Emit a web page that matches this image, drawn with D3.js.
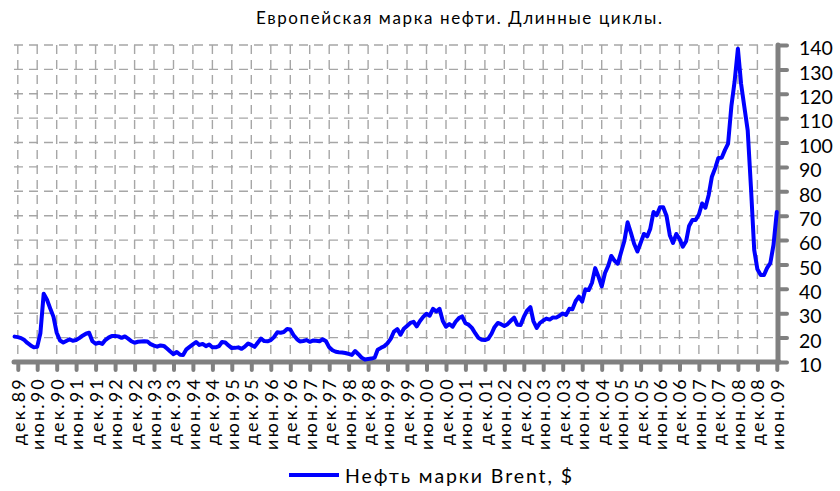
<!DOCTYPE html>
<html><head><meta charset="utf-8">
<script src="https://cdn.jsdelivr.net/npm/d3@7"></script>
<style>
html,body{margin:0;padding:0;background:#fff;}
svg{display:block;font-family:Lato,"Open Sans",sans-serif;}
</style></head>
<body>
<svg id="chart" width="840" height="491"></svg>
<script>
const chartTitle = "Европейская марка нефти. Длинные циклы.";
const seriesName = "Нефть марки Brent, $";
const firstMonth = "1989-11";
// monthly Brent values, Nov 1989 .. Jun 2009
const brentValues = [
 20.4,
 20.2,19.8,19,17.8,16.8,16,16.2,21.8,38,35.5,32,28.5,
 22,18.8,18,18.6,19.3,18.7,19,19.8,20.8,21.6,22,18.5,
 17.5,17.9,17.4,19,20,20.7,20.7,20.5,19.9,20.5,19.6,18.5,
 17.9,18.3,18.4,18.5,18.4,17.3,16.7,16.3,16.8,16.6,15.5,14.3,
 13.2,14.1,13,12.9,15.2,16.2,17.2,18.2,17,17.4,16.5,17.2,
 16,16,16.5,18.2,18,16.8,15.7,15.8,16,15.4,16.3,17.6,
 17,16.2,18,19.6,18.6,18.5,19,20.2,22.2,22,22.3,23.5,
 23.3,21,19.4,18.4,18.6,19,18.3,18.8,18.7,18.5,19.3,18.5,
 16,14.8,14.2,14,13.9,13.7,13.3,12.9,14.5,13.2,11.8,11,
 11.2,11.4,11.8,15,15.8,16.5,17.7,19.5,22.5,23.5,21.2,23.6,
 24.8,26,26.5,24.6,26.8,28.5,29.8,29,31.8,30.7,31.8,26.8,
 24.5,25.6,24.5,26.5,28,28.7,25.9,25.3,24,21.8,19.9,19.1,
 19,19.5,21.6,24.3,26,25.5,24.8,25.5,26.9,28.2,25.3,25.2,
 28.5,31.1,32.5,26.8,24,26,27,27.8,27.4,28.3,28.2,29,
 29.9,29.3,31.8,31.6,35,36.8,34.8,39.8,39.5,42.5,48.5,45,
 41,46.5,49.5,53.5,51.5,50.3,55,59.5,67.3,63,58.5,55.3,
 58.8,62.5,61.5,64.5,71.5,70.2,73.5,73.5,70,62,58.8,62.5,
 60.5,57.3,59.5,65.8,68.2,68.2,70.5,75,73.3,78.5,86,89.5,
 93.7,93.8,97,99.6,115,125,138.5,124,114.5,105,82,56,
 48,45.7,45.7,48.5,50.5,58,71.5
];
const xTickLabels = [
 "дек.89","июн.90","дек.90","июн.91","дек.91","июн.92","дек.92","июн.93",
 "дек.93","июн.94","дек.94","июн.95","дек.95","июн.96","дек.96","июн.97",
 "дек.97","июн.98","дек.98","июн.99","дек.99","июн.00","дек.00","июн.01",
 "дек.01","июн.02","дек.02","июн.03","дек.03","июн.04","дек.04","июн.05",
 "дек.05","июн.06","дек.06","июн.07","дек.07","июн.08","дек.08","июн.09"
];
const yTicks = [10,20,30,40,50,60,70,80,90,100,110,120,130,140];

const [fy, fm] = firstMonth.split("-").map(Number);
const data = brentValues.map((v,i)=>({date:new Date(fy, fm-1+i, 1), value:v}));
const tickDates = xTickLabels.map((_,k)=>new Date(fy, fm-1+1+6*k, 1));

const svg = d3.select("#chart");
const x = d3.scaleTime()
  .domain([data[0].date, data[data.length-1].date])
  .range([14.6, 776.8]);
const y = d3.scaleLinear().domain([10,140]).range([362,45]);
const xL = 14, xR = 778;

// grid
const grid = svg.append("g").attr("stroke","#a6a6a6").attr("stroke-width",1.4)
  .attr("stroke-dasharray","9,6").attr("fill","none");
grid.selectAll("line.h").data(yTicks.filter(d=>d>10)).join("line")
  .attr("x1",xL).attr("x2",xR).attr("y1",d=>y(d)).attr("y2",d=>y(d));
grid.selectAll("line.v").data(tickDates.slice(0,-1)).join("line")
  .attr("x1",d=>x(d)).attr("x2",d=>x(d)).attr("y1",y(140)).attr("y2",y(10));

// y axis (right)
const yAxis = svg.append("g").attr("transform",`translate(${xR},0)`)
  .call(d3.axisRight(y).tickValues(yTicks).tickSize(9).tickPadding(12).tickFormat(d3.format("d")));
yAxis.select(".domain").attr("stroke","#808080").attr("stroke-width",5).attr("stroke-linecap","round")
  .attr("d",`M0,${y(140)}V${y(10)}`);
yAxis.selectAll(".tick line").attr("stroke","#808080").attr("stroke-width",4).attr("stroke-linecap","round");
yAxis.selectAll(".tick text").attr("fill","#000").attr("font-size",19.5).attr("font-family","Lato")
  .attr("dy","0.5em").attr("x",21);

// x axis
const xAxis = svg.append("g").attr("transform",`translate(0,${y(10)})`)
  .call(d3.axisBottom(x).tickValues(tickDates).tickSize(8).tickFormat((d,i)=>xTickLabels[i]));
xAxis.select(".domain").attr("stroke","#808080").attr("stroke-width",5).attr("stroke-linecap","round")
  .attr("d",`M${xL},0H${xR+1}`);
xAxis.selectAll(".tick line").attr("stroke","#808080").attr("stroke-width",4).attr("stroke-linecap","round");
xAxis.selectAll(".tick text")
  .attr("fill","#000").attr("font-size",18).attr("font-family","Lato")
  .attr("letter-spacing","2.2px")
  .attr("text-anchor","end").attr("transform","rotate(-90)")
  .attr("x",-15).attr("y",0).attr("dy","0.36em");

// line
svg.append("path").datum(data)
  .attr("fill","none").attr("stroke","#0000ff").attr("stroke-width",4)
  .attr("stroke-linejoin","round").attr("stroke-linecap","round")
  .attr("d", d3.line().x(d=>x(d.date)).y(d=>y(d.value)));

// title
svg.append("text").attr("x",256).attr("y",24)
  .attr("font-size",17).attr("font-family","Lato").attr("fill","#000")
  .attr("textLength",406).attr("lengthAdjust","spacing").text(chartTitle);

// legend
svg.append("line").attr("x1",289).attr("x2",339).attr("y1",475).attr("y2",475)
  .attr("stroke","#0000ff").attr("stroke-width",4);
svg.append("text").attr("x",345).attr("y",483)
  .attr("font-size",19.5).attr("font-family","Lato").attr("fill","#000")
  .attr("textLength",227).attr("lengthAdjust","spacing").text(seriesName);
</script>
</body></html>
